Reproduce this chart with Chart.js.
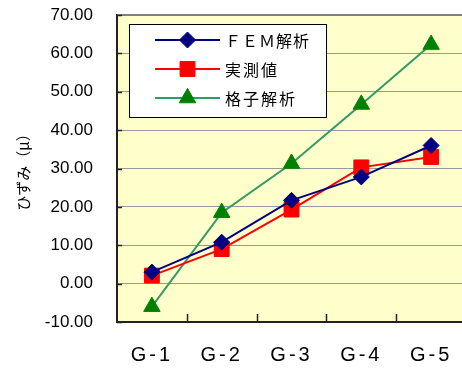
<!DOCTYPE html>
<html>
<head>
<meta charset="utf-8">
<script src="https://cdn.jsdelivr.net/npm/chart.js@4.4.1/dist/chart.umd.min.js"></script>
<style>
  html, body { margin: 0; padding: 0; background: #ffffff; }
  #wrap { width: 462px; height: 369px; overflow: hidden; position: relative; }
  canvas { display: block; }
</style>
</head>
<body>
<div id="wrap"><canvas id="c" width="466" height="369"></canvas></div>
<script>
// Girders and measured / computed strain
const categories = ['G-1', 'G-2', 'G-3', 'G-4', 'G-5'];
const femValues = [3.0, 10.8, 21.7, 27.8, 36.0];
const measuredValues = [2.1, 9.0, 19.3, 30.3, 33.0];
const gridValues = [-6.0, 18.5, 31.3, 46.7, 62.3];
const yTicks = [-10, 0, 10, 20, 30, 40, 50, 60, 70];

const seriesLabels = ['ＦＥＭ解析', '実測値', '格子解析'];

// Plot-area fill, top frame, inward tick marks and the boxed legend
const frame = {
  id: 'frame',
  beforeDraw(chart) {
    const { ctx, chartArea: a } = chart;
    ctx.save();
    ctx.fillStyle = '#ffffff';
    ctx.fillRect(0, 0, chart.width, chart.height);
    ctx.fillStyle = '#ffffcc';
    ctx.fillRect(a.left, a.top, a.right - a.left, a.bottom - a.top);
    ctx.restore();
  },
  beforeDatasetsDraw(chart) {
    const { ctx, chartArea: a, scales } = chart;
    ctx.save();
    ctx.strokeStyle = '#808080';
    ctx.lineWidth = 2;
    ctx.beginPath();
    ctx.moveTo(a.left, a.top);
    ctx.lineTo(a.right, a.top);
    ctx.stroke();
    ctx.strokeStyle = '#222222';
    ctx.lineWidth = 1.5;
    ctx.beginPath();
    yTicks.forEach(v => {
      const y = Math.round(scales.y.getPixelForValue(v)) + 0.5;
      ctx.moveTo(a.left, y);
      ctx.lineTo(a.left + 5, y);
    });
    const xs = scales.x;
    for (let i = 1; i < categories.length; i++) {
      const x = Math.round((xs.getPixelForValue(i - 1) + xs.getPixelForValue(i)) / 2) + 0.5;
      ctx.moveTo(x, a.bottom);
      ctx.lineTo(x, a.bottom - 8);
    }
    ctx.stroke();
    ctx.restore();
  },
  afterDatasetsDraw(chart) {
    // spacing for the category labels drawn after this hook
    chart.ctx.letterSpacing = '3px';
  },
  afterDraw(chart) {
    const ctx = chart.ctx;
    ctx.letterSpacing = '0px';
    ctx.save();
    const bx = 129.5, by = 24.5, bw = 197, bh = 93;
    ctx.fillStyle = '#ffffff';
    ctx.fillRect(bx, by, bw, bh);
    ctx.strokeStyle = '#000000';
    ctx.lineWidth = 1;
    ctx.strokeRect(bx, by, bw, bh);
    const rows = [40, 69, 98];
    chart.data.datasets.forEach((ds, i) => {
      const y = rows[i];
      ctx.strokeStyle = ds.borderColor;
      ctx.lineWidth = ds.borderWidth;
      ctx.beginPath();
      ctx.moveTo(155, y);
      ctx.lineTo(220, y);
      ctx.stroke();
      ctx.fillStyle = ds.pointBackgroundColor;
      ctx.strokeStyle = ds.pointBorderColor;
      ctx.lineWidth = ds.pointBorderWidth;
      Chart.helpers.drawPoint(ctx, {
        pointStyle: ds.pointStyle,
        radius: ds.pointRadius,
        borderWidth: ds.pointBorderWidth,
        rotation: 0
      }, 187.5, y);
      ctx.fillStyle = '#000000';
      ctx.font = '16px "Noto Sans CJK JP"';
      ctx.letterSpacing = i === 0 ? '1px' : '2px';
      ctx.textBaseline = 'middle';
      ctx.textAlign = 'left';
      ctx.fillText(ds.label, 225, y + 1);
    });
    ctx.restore();
    ctx.letterSpacing = '0px';
  }
};

new Chart(document.getElementById('c'), {
  type: 'line',
  data: {
    labels: categories,
    datasets: [
      {
        label: seriesLabels[0], data: femValues,
        borderColor: '#000080', borderWidth: 2,
        pointStyle: 'rectRot', pointRadius: 8,
        pointBackgroundColor: '#000080', pointBorderColor: '#000080', pointBorderWidth: 1
      },
      {
        label: seriesLabels[1], data: measuredValues,
        borderColor: '#ff0000', borderWidth: 2,
        pointStyle: 'rect', pointRadius: 10.5,
        pointBackgroundColor: '#ff0000', pointBorderColor: '#ff0000', pointBorderWidth: 1
      },
      {
        label: seriesLabels[2], data: gridValues,
        borderColor: '#339966', borderWidth: 2,
        pointStyle: 'triangle', pointRadius: 9.5,
        pointBackgroundColor: '#008000', pointBorderColor: '#008000', pointBorderWidth: 1
      }
    ]
  },
  options: {
    responsive: false,
    devicePixelRatio: 1,
    animation: false,
    events: [],
    layout: { autoPadding: false, padding: { top: 15, right: 0, bottom: 0, left: 0 } },
    plugins: { legend: { display: false }, tooltip: { enabled: false } },
    elements: { line: { tension: 0 } },
    scales: {
      x: {
        offset: true,
        grid: { display: true, drawOnChartArea: false, drawTicks: true, tickLength: 21, tickColor: 'rgba(0,0,0,0)' },
        border: { color: '#222222', width: 2 },
        ticks: {
          z: 1,
          padding: 0,
          color: '#000000',
          font: { family: '"Liberation Sans", Arial, sans-serif', size: 20 }
        },
        afterFit(scale) {
          scale.height = 47;
          scale.paddingLeft = 0;
          scale.paddingRight = 0;
        }
      },
      y: {
        min: -10, max: 70,
        grid: { color: '#999999', lineWidth: 1, drawTicks: true, tickLength: 24, tickColor: 'rgba(0,0,0,0)' },
        border: { color: '#222222', width: 2 },
        afterBuildTicks(scale) { scale.ticks = yTicks.map(v => ({ value: v })); },
        ticks: {
          padding: 0,
          color: '#000000',
          font: { family: '"Liberation Sans", Arial, sans-serif', size: 17 },
          callback: v => Number(v).toFixed(2)
        },
        title: {
          display: true,
          text: 'ひずみ（μ）',
          color: '#000000',
          font: { family: '"Noto Sans CJK JP"', size: 15 },
          padding: { top: 14, bottom: 0 }
        },
        afterFit(scale) {
          scale.width = 117;
          scale.paddingTop = 0;
          scale.paddingBottom = 0;
        }
      }
    }
  },
  plugins: [frame]
});
</script>
</body>
</html>
